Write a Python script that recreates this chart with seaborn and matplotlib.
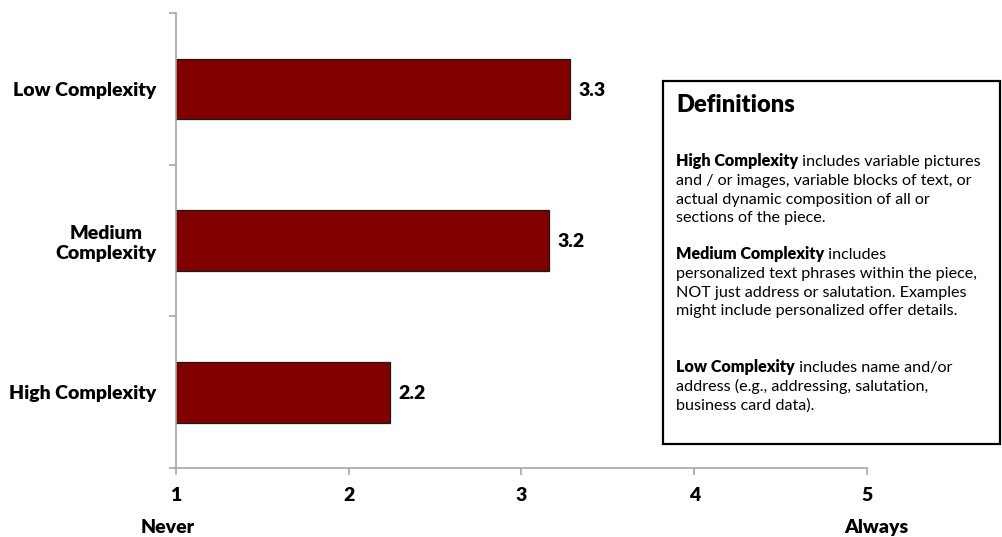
import matplotlib
matplotlib.use("Agg")
import matplotlib.pyplot as plt
from matplotlib.patches import Rectangle
import pandas as pd
import seaborn as sns

# Survey results: how often each level of personalization is used (1 = Never, 5 = Always)
categories = ["Low Complexity", "Medium Complexity", "High Complexity"]
tick_labels = ["Low Complexity", "Medium\nComplexity", "High Complexity"]
scores = [3.28, 3.16, 2.24]
x_ticks = [1, 2, 3, 4, 5]
scale_ends = ["Never", "Always"]

# Definitions panel: (bold lead-in, rest of first line, following lines)
definitions_title = "Definitions"
definitions = [
    ("High Complexity", " includes variable pictures",
     ["and / or images, variable blocks of text, or",
      "actual dynamic composition of all or",
      "sections of the piece."]),
    ("Medium Complexity", " includes",
     ["personalized text phrases within the piece,",
      "NOT just address or salutation. Examples",
      "might include personalized offer details."]),
    ("Low Complexity", " includes name and/or",
     ["address (e.g., addressing, salutation,",
      "business card data)."]),
]

sns.set_theme(style="white")
plt.rcParams["font.family"] = ["Lato", "DejaVu Sans"]

W, H = 1003, 537
fig = plt.figure(figsize=(W / 100, H / 100), dpi=100)
fig.patch.set_facecolor("white")

HEAVY = "heavy"
LABEL_SIZE = 14


def fx(px):
    return px / W


def fy(py):
    return 1 - py / H


ax = fig.add_axes([fx(176), fy(468), fx(867) - fx(176), fy(13) - fy(468)])

df = pd.DataFrame({"category": categories, "score": scores})
sns.barplot(data=df, y="category", x="score", orient="h", color="#800000",
            edgecolor="#1a1a1a", linewidth=0.9, width=0.4, saturation=1,
            ax=ax)

ax.set_xlim(1, 5)
ax.set_ylim(2.5, -0.5)
ax.set_xlabel("")
ax.set_ylabel("")

axis_grey = "#a6a6a6"
for side in ("top", "right"):
    ax.spines[side].set_visible(False)
for side in ("left", "bottom"):
    ax.spines[side].set_color(axis_grey)
    ax.spines[side].set_linewidth(1.2)

# x axis: score scale
ax.set_xticks(x_ticks)
ax.set_xticklabels([str(t) for t in x_ticks], fontsize=LABEL_SIZE,
                   fontweight=HEAVY, color="black")
ax.tick_params(axis="x", which="major", direction="out", length=5, width=1.2,
               color=axis_grey, pad=9, bottom=True)

# y axis: tick marks between categories, labels at category centres
ax.set_yticks([-0.5, 0.5, 1.5, 2.5])
ax.set_yticklabels([])
ax.tick_params(axis="y", which="major", direction="out", length=5, width=1.2,
               color=axis_grey, left=True)
ax.set_yticks(range(len(categories)), minor=True)
ax.set_yticklabels(tick_labels, minor=True, fontsize=LABEL_SIZE,
                   fontweight=HEAVY, color="black")
ax.tick_params(axis="y", which="minor", length=0, pad=14, left=True)
for lbl in ax.get_yticklabels(minor=True):
    lbl.set_multialignment("center")

# value labels at the end of each bar
for i, v in enumerate(scores):
    ax.annotate(f"{v:.1f}", xy=(v, i), xytext=(6, -1),
                textcoords="offset points", ha="left", va="center",
                fontsize=LABEL_SIZE, fontweight=HEAVY, color="black")

# scale end captions
fig.text(fx(168), fy(533), scale_ends[0], ha="center", va="baseline",
         fontsize=LABEL_SIZE, fontweight=HEAVY, color="black")
fig.text(fx(876), fy(533), scale_ends[1], ha="center", va="baseline",
         fontsize=LABEL_SIZE, fontweight=HEAVY, color="black")

# definitions panel
fig.patches.append(Rectangle((fx(663), fy(444)), fx(1000) - fx(663),
                             fy(81) - fy(444), transform=fig.transFigure,
                             facecolor="white", edgecolor="black",
                             linewidth=1.6, zorder=1))
fig.text(fx(676), fy(112), definitions_title, ha="left", va="baseline",
         fontsize=17, fontweight=HEAVY, color="black")

group_baselines = [166, 259, 372]
line_step = 18.8
body_size = 11.6
renderer = fig.canvas.get_renderer()
for (lead, rest, more), base in zip(definitions, group_baselines):
    lead_txt = fig.text(fx(676), fy(base), lead, ha="left", va="baseline",
                        fontsize=body_size, fontweight=HEAVY, color="black")
    lead_end = lead_txt.get_window_extent(renderer).x1
    fig.text(lead_end / W, fy(base), rest, ha="left", va="baseline",
             fontsize=body_size, color="black")
    for k, line in enumerate(more, start=1):
        fig.text(fx(676), fy(base + k * line_step), line, ha="left",
                 va="baseline", fontsize=body_size, color="black")

fig.savefig("out.png", dpi=100, facecolor="white")
